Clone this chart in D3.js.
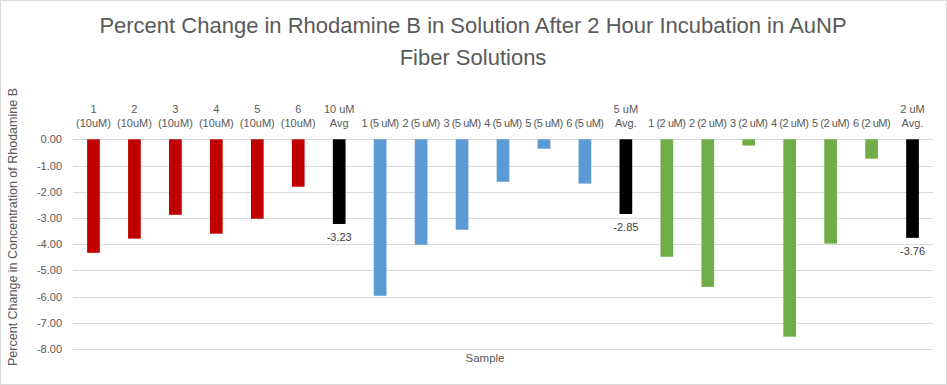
<!DOCTYPE html>
<html>
<head>
<meta charset="utf-8">
<script src="https://cdn.jsdelivr.net/npm/d3@7"></script>
<style>
    body { margin: 0; background: #fff; }
    svg text { font-family: "Liberation Sans", Arial, sans-serif; fill: #595959; }
</style>
</head>
<body>
<svg id="chart" width="947" height="385"></svg>
<script>
// Percent change in Rhodamine B after 2 h incubation, by sample

const categories = [
    "1\n(10uM)", "2\n(10uM)", "3\n(10uM)", "4\n(10uM)", "5\n(10uM)", "6\n(10uM)", "10 uM\nAvg",
    "1 (5 uM)", "2 (5 uM)", "3 (5 uM)", "4 (5 uM)", "5 (5 uM)", "6 (5 uM)", "5 uM\nAvg.",
    "1 (2 uM)", "2 (2 uM)", "3 (2 uM)", "4 (2 uM)", "5 (2 uM)", "6 (2 uM)", "2 uM\nAvg."
];

const values = [
    -4.33, -3.79, -2.88, -3.60, -3.03, -1.81, -3.23,
    -5.97, -4.02, -3.45, -1.62, -0.36, -1.69, -2.85,
    -4.48, -5.63, -0.24, -7.53, -3.98, -0.74, -3.76
];

// which group each bar belongs to
const groups = [
    "10", "10", "10", "10", "10", "10", "avg",
    "5", "5", "5", "5", "5", "5", "avg",
    "2", "2", "2", "2", "2", "2", "avg"
];

const yTicks = [0, -1, -2, -3, -4, -5, -6, -7, -8];

const colors = { "10": "#c00000", "5": "#5b9bd5", "2": "#70ad47", "avg": "#000000" };

const svg = d3.select("#chart");
const width = 947, height = 385;

// chart border
svg.append("rect")
    .attr("x", 0.5).attr("y", 0.5)
    .attr("width", width - 1).attr("height", height - 1)
    .attr("fill", "#fff").attr("stroke", "#d9d9d9");

const plot = { left: 73, right: 933, top: 139.3, bottom: 349 };

const x = d3.scaleBand()
    .domain(categories)
    .range([plot.left, plot.right])
    .paddingInner(0.69)
    .paddingOuter(0.345);

const y = d3.scaleLinear()
    .domain([0, -8])
    .range([plot.top, plot.bottom]);

// gridlines
svg.append("g")
    .selectAll("line")
    .data(yTicks)
    .enter()
    .append("line")
    .attr("x1", plot.left).attr("x2", plot.right)
    .attr("y1", d => Math.round(y(d)) + 0.5)
    .attr("y2", d => Math.round(y(d)) + 0.5)
    .attr("stroke", "#d9d9d9");

// y axis labels
const yAxis = svg.append("g")
    .attr("transform", `translate(${plot.left},0)`)
    .call(d3.axisLeft(y).tickValues(yTicks).tickSize(0).tickPadding(11)
        .tickFormat(d => d.toFixed(2)));
yAxis.select(".domain").remove();
yAxis.selectAll("text")
    .style("font-size", "11px")
    .style("font-family", "'Liberation Sans', Arial, sans-serif")
    .attr("fill", "#595959");

// bars
svg.append("g")
    .selectAll("rect")
    .data(values)
    .enter()
    .append("rect")
    .attr("x", (d, i) => x(categories[i]))
    .attr("y", y(0))
    .attr("width", x.bandwidth())
    .attr("height", d => y(d) - y(0))
    .attr("fill", (d, i) => colors[groups[i]]);

// data labels on average bars
svg.append("g")
    .selectAll("text")
    .data(values.map((v, i) => ({ v, i })).filter(d => groups[d.i] === "avg"))
    .enter()
    .append("text")
    .attr("x", d => x(categories[d.i]) + x.bandwidth() / 2)
    .attr("y", d => y(d.v) + 17)
    .attr("text-anchor", "middle")
    .style("font-size", "11px")
    .style("fill", "#404040")
    .text(d => d.v.toFixed(2));

// category labels above the plot (axis at top)
const xAxis = svg.append("g")
    .attr("transform", `translate(0,${plot.top})`)
    .call(d3.axisTop(x).tickSize(0).tickFormat(""));
xAxis.select(".domain").remove();
xAxis.selectAll(".tick").each(function (d) {
    const lines = d.split("\n");
    const t = d3.select(this).append("text")
        .attr("text-anchor", "middle")
        .style("font-size", "11px")
        .style("letter-spacing", lines.length === 1 ? "-0.45px" : "0px")
        .attr("fill", "#595959");
    lines.forEach((line, k) => {
        t.append("tspan")
            .attr("x", 0)
            .attr("y", -12 - (lines.length - 1 - k) * 14)
            .text(line);
    });
});

// title
const title = svg.append("text")
    .attr("text-anchor", "middle")
    .style("font-size", "22px")
    .style("fill", "#595959");
title.append("tspan").attr("x", 473).attr("y", 33)
    .text("Percent Change in Rhodamine B in Solution After 2 Hour Incubation in AuNP");
title.append("tspan").attr("x", 473).attr("y", 65)
    .text("Fiber Solutions");

// axis titles
svg.append("text")
    .attr("transform", "translate(17,227) rotate(-90)")
    .attr("text-anchor", "middle")
    .style("font-size", "12.5px")
    .text("Percent Change in Concentration of Rhodamine B");

svg.append("text")
    .attr("x", 485).attr("y", 362)
    .attr("text-anchor", "middle")
    .style("font-size", "11.5px")
    .text("Sample");
</script>
</body>
</html>
